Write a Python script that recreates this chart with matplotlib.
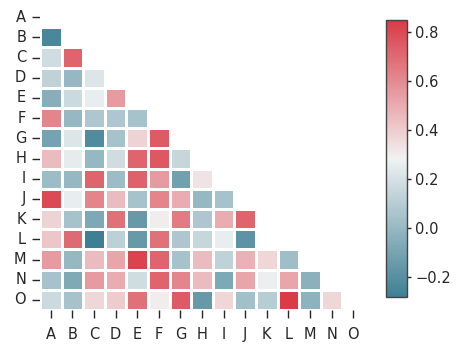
import numpy as np
import pandas as pd
import matplotlib
matplotlib.use("Agg")
import matplotlib.pyplot as plt
import seaborn as sns

labels = list("ABCDEFGHIJKLMNO")

# lower-triangle values, row by row (row i has i values: columns A..)
row_B = [-0.24]
row_C = [0.18, 0.72]
row_D = [0.13, 0.00, 0.22]
row_E = [-0.05, 0.17, 0.26, 0.55]
row_F = [0.62, 0.00, 0.07, 0.07, 0.05]
row_G = [-0.10, 0.22, -0.22, 0.05, 0.38, 0.75]
row_H = [0.45, 0.25, 0.00, 0.18, 0.72, 0.76, 0.15]
row_I = [0.02, 0.00, 0.72, 0.02, 0.73, 0.55, -0.12, 0.33]
row_J = [0.80, 0.26, 0.62, 0.45, 0.05, 0.62, 0.50, 0.00, 0.05]
row_K = [0.38, 0.05, -0.08, 0.68, -0.15, 0.30, 0.65, 0.07, 0.50, 0.72]
row_L = [0.42, 0.70, -0.28, 0.12, -0.15, 0.68, 0.07, 0.15, 0.26, -0.18]
row_M = [0.55, 0.00, 0.45, 0.52, 0.82, 0.72, 0.05, 0.45, 0.13, 0.48, 0.37, 0.03]
row_N = [0.05, -0.07, 0.55, 0.50, 0.18, 0.72, 0.62, 0.45, -0.08, 0.52, 0.27, 0.52, -0.03]
row_O = [0.17, 0.05, 0.37, 0.40, 0.68, 0.30, 0.75, -0.15, 0.37, 0.04, 0.10, 0.85, -0.02, 0.37]

rows = [[], row_B, row_C, row_D, row_E, row_F, row_G, row_H, row_I, row_J,
        row_K, row_L, row_M, row_N, row_O]

n = len(labels)
mat = np.full((n, n), np.nan)
for i, r in enumerate(rows):
    for j, v in enumerate(r):
        mat[i, j] = v
        mat[j, i] = v
np.fill_diagonal(mat, 1.0)
corr = pd.DataFrame(mat, index=labels, columns=labels)
mask = np.triu(np.ones_like(mat, dtype=bool))

sns.set_style("ticks")
plt.rcParams['font.family'] = ['DejaVu Sans']

fig = plt.figure(figsize=(4.74, 3.55), dpi=100)
ax = fig.add_axes([40/474, 1 - 310/355, 324/474, 303/355])
cax = fig.add_axes([386/474, 1 - 297/355, 21/474, 277/355])
cmap = sns.diverging_palette(220, 10, as_cmap=True)
sns.heatmap(corr, mask=mask, cmap=cmap, linewidths=1, linecolor="white",
            ax=ax, cbar_ax=cax, square=False)
ax.tick_params(axis="both", labelsize=10.5, colors="#262626", length=6,
               width=1)
ax.tick_params(axis="x", pad=6)
ax.tick_params(axis="y", pad=4)
ax.set_yticklabels(labels, rotation=0)
ax.set_xticklabels(labels, rotation=0)
cax.tick_params(labelsize=10.5, colors="#262626", length=3, width=1, pad=3)
cb = ax.collections[0].colorbar
cb.outline.set_visible(True)
cb.outline.set_edgecolor("#444444")
cb.outline.set_linewidth(1)

fig.savefig("out.png", dpi=100)
